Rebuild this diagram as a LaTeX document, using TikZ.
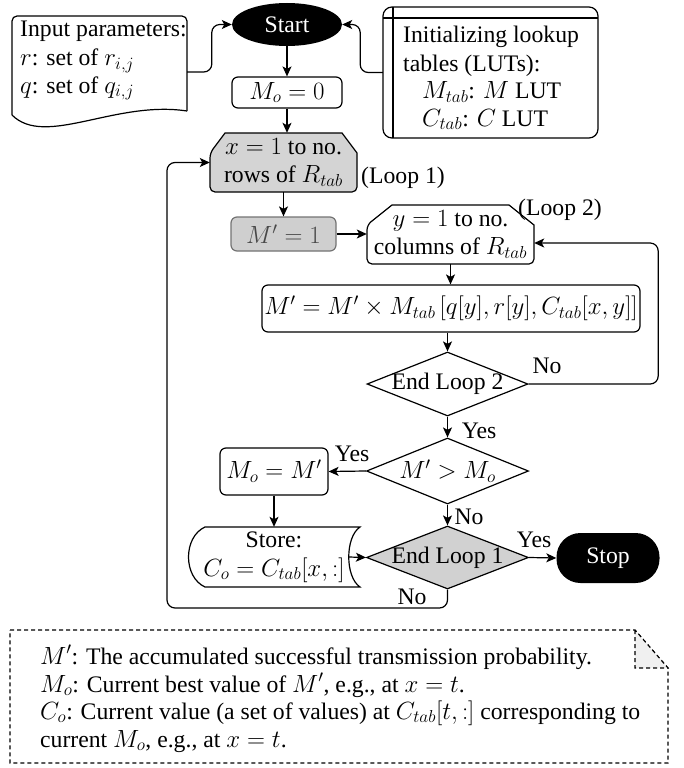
\documentclass[tikz,border=0pt]{standalone}
\usepackage[no-math]{fontspec}
\setmainfont{Liberation Serif}
\usetikzlibrary{shapes.geometric,arrows.meta,calc}
\begin{document}
\begin{tikzpicture}[x=1pt,y=-1pt,
  every node/.style={font=\fontsize{23.7}{28.5}\selectfont, inner sep=0pt},
  line/.style={line width=1.2pt},
  arr/.style={line width=1.2pt, -{Stealth[length=10pt,width=9pt,inset=2.5pt]}, rounded corners=8pt},
  box/.style={draw, line width=1.2pt, rounded corners=6pt},
  dia/.style={diamond, draw, line width=1.2pt},
  term/.style={fill=black, text=white},
  lbl/.style={anchor=center},
  notedash/.style={line width=1.1pt, dash pattern=on 4pt off 3pt}
]
\useasboundingbox (0,0) rectangle (683,768);

% ---------- outlines drawn as shapes ----------
% input document shape
\draw[line, rounded corners=5pt] (12,115) -- (12,16) -- (187,16) -- (187,111);
\draw[line] (187,111) .. controls (115,100) and (45,148) .. (12,115);
\node[minimum width=175pt, minimum height=100pt] (inp) at (99.5,66) {};
\node[anchor=base west] (inp1) at (20,37) {Input parameters:};
\node[anchor=base west] (inp2) at (20,66) {$r$: set of $r_{i,j}$};
\node[anchor=base west] (inp3) at (20,93) {$q$: set of $q_{i,j}$};

% LUT internal storage
\draw[line, rounded corners=9pt] (383,7) rectangle (598,138);
\draw[line] (393,7) -- (393,138);
\draw[line] (383,18) -- (598,18);
\node[minimum width=215pt, minimum height=131pt] (lut) at (490.5,72.5) {};
\node[anchor=base west] (lut1) at (403,43) {Initializing lookup};
\node[anchor=base west] (lut2) at (403,71) {tables (LUTs):};
\node[anchor=base west] (lut3) at (422,99) {$M_{tab}$: $M$ LUT};
\node[anchor=base west] (lut4) at (422,126) {$C_{tab}$: $C$ LUT};

% Start
\node[ellipse, term, minimum width=110pt, minimum height=43pt] (start) at (287,24.5) {Start};
\node[box, minimum width=110pt, minimum height=31pt] (m0) at (287,92.5) {$M_o = 0$};

% Loop 1 (gray, chamfered top)
\draw[line, fill=black!17] (225,133) -- (342,133) -- (357,153) [rounded corners=5pt] -- (357,192) -- (210,192) -- (210,153) [sharp corners] -- cycle;
\node[align=center, minimum width=147pt, minimum height=59pt] (loop1) at (283.5,162.5) {$x = 1$ to no.\\rows of $R_{tab}$};
\node[anchor=base west] (loop1lbl) at (361,183) {(Loop 1)};

% M' = 1
\node[box, fill=black!19, draw=black!55, text=black!72, minimum width=105pt, minimum height=34pt] (mp1) at (283.5,234) {$M' = 1$};

% Loop 2 (white, chamfered top)
\draw[line, fill=white] (392,205) -- (509,205) -- (534,225) [rounded corners=5pt] -- (534,264) -- (367,264) -- (367,225) [sharp corners] -- cycle;
\node[align=center, minimum width=167pt, minimum height=59pt] (loop2) at (450.5,234.5) {$y = 1$ to no.\\columns of $R_{tab}$};
\node[anchor=base west] (loop2lbl) at (518,215) {(Loop 2)};

% big update box
\node[box, minimum width=378pt, minimum height=47pt] (big) at (451,308.5) {$M' = M' \times M_{tab}\left[q[y], r[y], C_{tab}[x,y]\right]$};

% decisions
\node[dia, minimum width=161pt, minimum height=64pt] (el2) at (447.5,384) {\makebox[0pt]{End Loop 2}};
\node[dia, minimum width=162pt, minimum height=66pt] (gt) at (447.5,471) {\makebox[0pt]{$M' > M_o$}};
\node[dia, fill=black!18, minimum width=162pt, minimum height=63pt] (el1) at (447.5,557.5) {\makebox[0pt]{End Loop 1}};

% M_o = M'
\node[box, minimum width=108pt, minimum height=47pt] (mom) at (274,471.5) {$M_o = M'$};

% Store (data storage shape)
\draw[line] (205,527) -- (360,527) .. controls (345,537) and (345,577) .. (360,587) -- (205,587) .. controls (183,577) and (183,537) .. (205,527) -- cycle;
\node[align=center, minimum width=160pt, minimum height=60pt] (store) at (274,557) {Store:\\$C_o = C_{tab}[x,{:}]$};
\coordinate (storeE) at (348.8,557);

% Stop
\node[term, rounded corners=24pt, minimum width=103pt, minimum height=50pt] (stop) at (608,558) {Stop};

% ---------- connectors ----------
\draw[arr] ($(inp.east)+(0,6)$) -| ($(start.west)+(-20,0)$) -- (start.west);
\draw[arr] (lut.west) -| ($(start.east)+(18,0)$) -- (start.east);
\draw[arr] (start.south) -- (m0.north);
\draw[arr] (m0.south) -- (m0.south |- loop1.north);
\draw[arr] (loop1.south) -- (mp1.north);
\draw[arr] (mp1.east) -- (mp1.east -| loop2.west);
\draw[arr] (loop2.south) -- (loop2.south |- big.north);
\draw[arr] (el2.north |- big.south) -- (el2.north);
\draw[arr] (el2.east) -| ($(loop2.east)+(124,8.5)$) -- ($(loop2.east)+(0,8.5)$);
\draw[arr] (el2.south) -- (gt.north);
\draw[arr] (gt.west) -- (mom.east);
\draw[arr] (gt.south) -- (el1.north);
\draw[arr] (mom.south) -- (mom.south |- store.north);
\draw[arr] (storeE) -- (el1.west);
\draw[arr] (el1.east) -- (stop.west);
\draw[arr] (el1.south) |- (167,608) |- (loop1.west);

% labels
\node[lbl] (no1) at (547,366) {No};
\node[lbl] (yes1) at (479,431) {Yes};
\node[lbl] (yes2) at (352,454) {Yes};
\node[lbl] (no2) at (469,517) {No};
\node[lbl] (yes3) at (534,540) {Yes};
\node[lbl] (no3) at (412,597) {No};

% ---------- note ----------
\draw[notedash] (10,630) -- (635,630) -- (668,668) -- (668,763) -- (10,763) -- cycle;
\draw[notedash, fill=black!6] (635,630) -- (635,668) -- (668,668) -- cycle;
\node[anchor=base west] (n1) at (40,664) {$M'$: The accumulated successful transmission probability.};
\node[anchor=base west] (n2) at (40,692) {$M_o$: Current best value of $M'$, e.g., at $x = t$.};
\node[anchor=base west] (n3) at (40,719) {$C_o$: Current value (a set of values) at $C_{tab}[t,{:}]$ corresponding to};
\node[anchor=base west] (n4) at (40,747) {current $M_o$, e.g., at $x = t$.};
\end{tikzpicture}
\end{document}
